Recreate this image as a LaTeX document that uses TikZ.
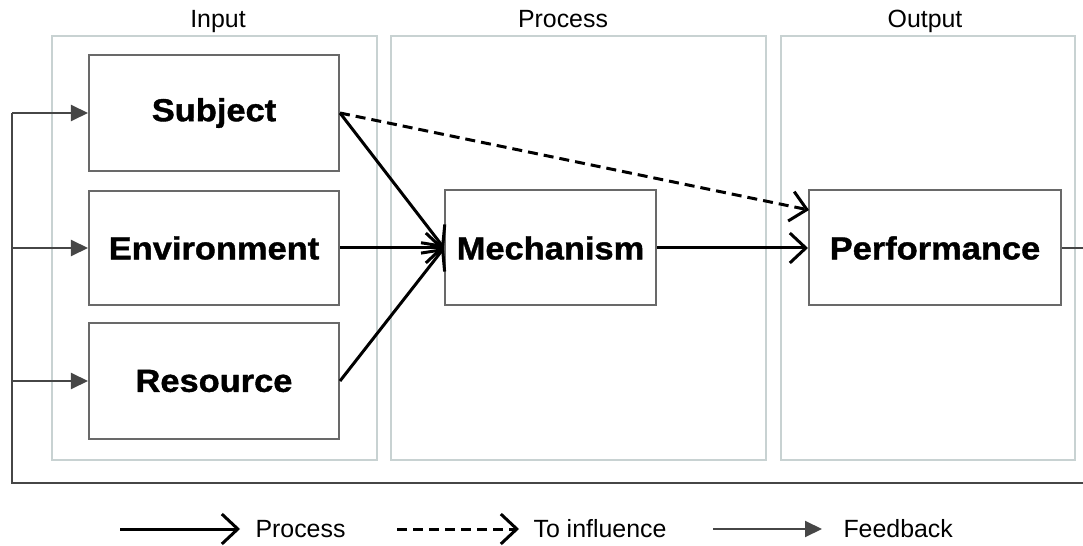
\documentclass[tikz,border=0pt]{standalone}
\usepackage{fontspec}
\setmainfont{Liberation Sans}
\newfontfamily\boxfont[FakeStretch=1.08,BoldFeatures={FakeBold=1.2}]{Liberation Sans}
\usetikzlibrary{arrows.meta}
\definecolor{panelc}{RGB}{200,210,210}
\definecolor{boxc}{RGB}{105,105,105}
\definecolor{fbc}{RGB}{70,70,70}
\tikzset{
  panel/.style={draw=panelc, line width=1.5bp},
  ptitle/.style={font=\fontsize{25}{28}\selectfont, text=black, anchor=base},
  blk/.style={draw=boxc, line width=2bp, fill=white, font=\boxfont\bfseries\fontsize{32}{36}\selectfont},
  proc/.style={line width=3bp, black, -{Straight Barb[length=16bp,width=30bp,line width=3bp]}},
  infl/.style={proc, dash pattern=on 10bp off 6bp},
  fb/.style={line width=2bp, fbc, -{Triangle[length=17bp,width=16bp]}},
  fbl/.style={line width=2bp, fbc},
  leg/.style={font=\fontsize{25}{28}\selectfont, anchor=base west}
}
\begin{document}
\begin{tikzpicture}[x=1bp,y=-1bp]
\useasboundingbox (0,0) rectangle (1083,546);
% panels
\draw[panel] (52,36) rectangle (377,460);
\draw[panel] (391,36) rectangle (766,460);
\draw[panel] (781,36) rectangle (1075,460);
\node[ptitle] (tin) at (218,28) {Input};
\node[ptitle] (tpr) at (563,28) {Process};
\node[ptitle] (tout) at (925,28) {Output};
% boxes
\node[blk, minimum width=250bp, minimum height=116bp] (subj) at (214,113) {Subject};
\node[blk, minimum width=250bp, minimum height=114bp] (env) at (214,248) {Environment};
\node[blk, minimum width=250bp, minimum height=116bp] (res) at (214,381) {Resource};
\node[blk, minimum width=211bp, minimum height=115bp] (mech) at (550.5,248) {Mechanism};
\node[blk, minimum width=252bp, minimum height=115bp] (perf) at (935,248) {Performance};
% process arrows
\draw[proc] (subj.east) -- (mech.west);
\draw[proc] (env.east) -- (mech.west);
\draw[proc] (res.east) -- (mech.west);
\draw[proc] (mech.east) -- (perf.west);
\coordinate (perfin) at (809,210);
\draw[infl] (subj.east) -- (perfin);
% feedback
\coordinate (fr) at (1090,248);
\coordinate (fbr) at (1090,483);
\coordinate (fbl) at (12,483);
\coordinate (fs) at (12,113);
\coordinate (fe) at (12,248);
\coordinate (fres) at (12,381);
\draw[fbl] (perf.east) -- (fr) -- (fbr) -- (fbl) -- (fs);
\draw[fb] (fs) -- (subj.west);
\draw[fb] (fe) -- (env.west);
\draw[fb] (fres) -- (res.west);
% legend
\coordinate (l1a) at (120,529);
\coordinate (l1b) at (240,529);
\coordinate (l2a) at (397,529);
\coordinate (l2b) at (519,529);
\coordinate (l3a) at (713,529);
\coordinate (l3b) at (822,529);
\draw[proc] (l1a) -- (l1b);
\draw[infl] (l2a) -- (l2b);
\draw[fb] (l3a) -- (l3b);
\node[leg] (lp) at (252,537) {Process};
\node[leg] (li) at (530,537) {To influence};
\node[leg] (lf) at (840,537) {Feedback};
\end{tikzpicture}
\end{document}
